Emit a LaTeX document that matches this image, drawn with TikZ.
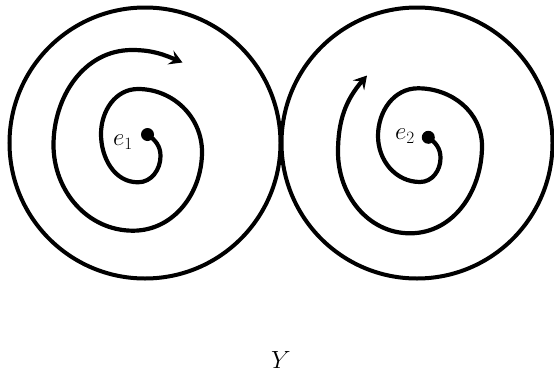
\documentclass[tikz,border=0pt]{standalone}
\usetikzlibrary{arrows.meta}
\begin{document}
\begin{tikzpicture}[x=1pt,y=-1pt,
  ring/.style={line width=4pt},
  spiral/.style={line width=4.2pt,line cap=round,-{Stealth[length=13pt,width=15pt,inset=5pt]}},
  pole/.style={circle,fill=black,inner sep=0pt,minimum size=13pt},
  lab/.style={font=\fontsize{24}{28}\selectfont}]
\useasboundingbox (0,0) rectangle (554,375);
\draw[ring] (145,143) circle[radius=135.5];
\draw[ring] (417,143) circle[radius=135.5];
\node[pole] (p1) at (147.5,134.5) {};
\node[pole] (p2) at (428.3,137.3) {};
% left spiral
\draw[spiral] (p1.center) to[out=-35,in=90] (160.5,156) to[out=270,in=0] (138,182.3)
  to[out=180,in=270] (101,134) to[out=90,in=180] (138,89) to[out=0,in=90] (202,152)
  to[out=270,in=0] (133,230.7) to[out=180,in=270] (53.5,145) to[out=90,in=180] (132,50)
  to[out=0,in=157] (182.5,62.5);
% right spiral
\draw[spiral] (p2.center) to[out=-35,in=90] (440.5,158) to[out=270,in=0] (420,182)
  to[out=180,in=270] (378,136) to[out=90,in=180] (418,88.3) to[out=0,in=90] (482,146)
  to[out=270,in=0] (410,233.3) to[out=180,in=270] (338,152) to[out=90,in=229] (367,75.5);
\node[lab] (e1) at (123,142) {$e_1$};
\node[lab] (e2) at (405,136) {$e_2$};
\node[font=\fontsize{28}{32}\selectfont] (Y) at (281,360) {$Y$};
\end{tikzpicture}
\end{document}
